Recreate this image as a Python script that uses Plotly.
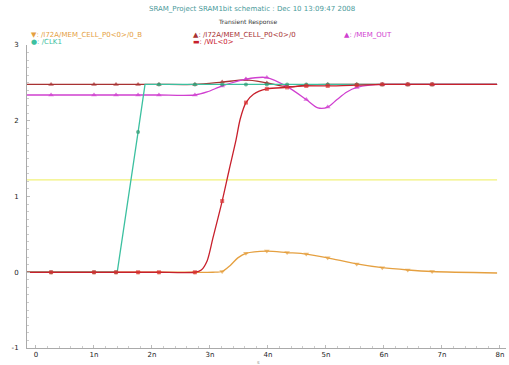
import plotly.graph_objects as go

# ---- data (time in ns, voltage in V) ----
MARK_T = [0.26, 1.0, 1.38, 1.76, 2.12, 2.74, 3.21, 3.62, 3.98, 4.33, 4.66, 5.03, 5.53, 5.97, 6.41, 6.83]

t_clk = [-0.155, 0.26, 1.0, 1.38, 1.40, 1.76, 1.88, 2.12, 2.74, 3.21, 3.62, 3.98, 4.33, 4.66, 5.03, 5.53, 5.97, 6.41, 6.83, 7.95]
v_clk = [0, 0, 0, 0, 0, 1.85, 2.48, 2.48, 2.48, 2.48, 2.48, 2.48, 2.48, 2.48, 2.48, 2.48, 2.48, 2.48, 2.48, 2.48]

t_node = [-0.155, 0.26, 1.0, 1.38, 1.76, 2.12, 2.74, 3.21, 3.62, 3.98, 4.33, 4.66, 5.03, 5.53, 5.97, 6.41, 6.83, 7.95]
v_node = [2.48, 2.48, 2.48, 2.48, 2.48, 2.48, 2.48, 2.51, 2.54, 2.50, 2.45, 2.47, 2.48, 2.48, 2.48, 2.48, 2.48, 2.48]

t_nodeb = [-0.155, 0.26, 1.0, 1.38, 1.76, 2.12, 2.74, 3.05, 3.21, 3.35, 3.48, 3.62, 3.98, 4.33, 4.66, 5.03, 5.53, 5.97, 6.41, 6.83, 7.95]
v_nodeb = [0, 0, 0, 0, 0, 0, 0, 0.0, 0.01, 0.09, 0.19, 0.25, 0.28, 0.26, 0.24, 0.19, 0.11, 0.06, 0.03, 0.01, -0.01]

t_out = [-0.155, 0.26, 1.0, 1.38, 1.76, 2.12, 2.74, 2.95, 3.21, 3.62, 3.98, 4.33, 4.66, 4.86, 5.03, 5.19, 5.36, 5.53, 5.76, 5.97, 6.41, 6.83, 7.95]
v_out = [2.34, 2.34, 2.34, 2.34, 2.34, 2.34, 2.34, 2.38, 2.46, 2.55, 2.57, 2.45, 2.28, 2.17, 2.18, 2.28, 2.38, 2.44, 2.47, 2.48, 2.48, 2.48, 2.48]

t_wl = [-0.155, 0.26, 1.0, 1.38, 1.76, 2.12, 2.74, 2.85, 2.95, 3.05, 3.21, 3.33, 3.45, 3.52, 3.62, 3.75, 3.98, 4.33, 4.66, 5.03, 5.53, 5.97, 6.41, 6.83, 7.95]
v_wl = [0, 0, 0, 0, 0, 0, 0, 0.03, 0.15, 0.45, 0.94, 1.35, 1.75, 2.02, 2.24, 2.35, 2.42, 2.44, 2.46, 2.46, 2.47, 2.48, 2.48, 2.48, 2.48]

t_mid = [-0.155, 7.95]
v_mid = [1.22, 1.22]

X_TICKS = [0, 1, 2, 3, 4, 5, 6, 7, 8]
X_LABELS = ["0", "1n", "2n", "3n", "4n", "5n", "6n", "7n", "8n"]
Y_TICKS = [-1, 0, 1, 2, 3]
Y_LABELS = ["-1", "0", "1", "2", "3"]

TITLE = "SRAM_Project SRAM1bit schematic : Dec 10 13:09:47 2008"
SUBTITLE = "Transient Response"
NAMES = ["/I72A/MEM_CELL_P0<0>/0_B", "/I72A/MEM_CELL_P0<0>/0", "/MEM_OUT", "/CLK1", "/WL<0>"]

# ---- styling ----
C_NODEB = "#e5a040"
C_NODE = "#a83232"
C_OUT = "#d040d0"
C_CLK = "#3cc0a0"
C_WL = "#c8202c"
C_MID = "#f2f27a"

W, H = 509, 365
L, R, T, B = 27, 3, 45, 17


def sizes(ts, s):
    return [s if t in MARK_T else 0 for t in ts]


fig = go.Figure()
fig.add_trace(go.Scatter(x=t_mid, y=v_mid, mode="lines", line=dict(color=C_MID, width=1.2), showlegend=False))
fig.add_trace(go.Scatter(x=t_nodeb, y=v_nodeb, mode="lines+markers", line=dict(color=C_NODEB, width=1.3, shape="spline", smoothing=0.8),
                         marker=dict(symbol="triangle-down", size=sizes(t_nodeb, 5), color=C_NODEB, line=dict(width=0)), showlegend=False))
fig.add_trace(go.Scatter(x=t_node, y=v_node, mode="lines+markers", line=dict(color=C_NODE, width=1.3, shape="spline", smoothing=0.8),
                         marker=dict(symbol="triangle-up", size=sizes(t_node, 5), color=C_NODE, line=dict(width=0)), showlegend=False))
fig.add_trace(go.Scatter(x=t_out, y=v_out, mode="lines+markers", line=dict(color=C_OUT, width=1.3, shape="spline", smoothing=0.8),
                         marker=dict(symbol="triangle-up", size=sizes(t_out, 5), color=C_OUT, line=dict(width=0)), showlegend=False))
fig.add_trace(go.Scatter(x=t_clk, y=v_clk, mode="lines+markers", line=dict(color=C_CLK, width=1.3),
                         marker=dict(symbol="circle", size=sizes(t_clk, 4), color="#2e9a70", line=dict(width=0)), showlegend=False))
fig.add_trace(go.Scatter(x=t_wl, y=v_wl, mode="lines+markers", line=dict(color=C_WL, width=1.3, shape="spline", smoothing=0.8),
                         marker=dict(symbol="square", size=sizes(t_wl, 4), color="#d83030", line=dict(width=0)), showlegend=False))

x0 = -0.155
x1 = x0 + (W - L - R) / 58.0

axis_common = dict(showgrid=False, zeroline=False, showline=True, linecolor="#aaaaaa", linewidth=1,
                   ticks="inside", ticklen=3, tickcolor="#bbbbbb",
                   tickfont=dict(family="DejaVu Sans", size=7, color="#222222"))
fig.update_xaxes(range=[x0, x1], tickvals=X_TICKS, ticktext=X_LABELS,
                 minor=dict(ticks="inside", ticklen=2, dtick=0.2, tickcolor="#cccccc"), **axis_common)
fig.update_yaxes(range=[-1, 3], tickvals=Y_TICKS, ticktext=Y_LABELS, ticklabelstandoff=6,
                 minor=dict(ticks="inside", ticklen=2, dtick=0.1, tickcolor="#cccccc"), **axis_common)


def px(x):
    return (x - L) / (W - L - R)


def py(y):
    return (H - B - y) / (H - T - B)


ann = []
ann.append(dict(x=px(252), y=py(9), text=TITLE, font=dict(size=7, color="#4a9a9a", family="DejaVu Sans")))
ann.append(dict(x=px(247), y=py(22), text=SUBTITLE, font=dict(size=6, color="#333333", family="DejaVu Sans")))
legend_items = [
    (29, 35, "\u25bc: " + NAMES[0], C_NODEB),
    (191, 35, "\u25b2: " + NAMES[1], C_NODE),
    (342, 35, "\u25b2: " + NAMES[2], C_OUT),
    (29, 42, "\u25cf: " + NAMES[3], C_CLK),
    (191, 42, "\u25ac: " + NAMES[4], C_WL),
]
for lx, ly, txt, col in legend_items:
    ann.append(dict(x=px(lx), y=py(ly), text=txt, xanchor="left", font=dict(size=7, color=col, family="DejaVu Sans")))
ann.append(dict(x=px(258), y=py(362), text="s", font=dict(size=5, color="#888888", family="DejaVu Sans")))
for a in ann:
    a.update(xref="paper", yref="paper", showarrow=False)
    a.setdefault("xanchor", "center")
    a["yanchor"] = "middle"

fig.update_layout(width=W, height=H, margin=dict(l=L, r=R, t=T, b=B), paper_bgcolor="white", plot_bgcolor="white",
                  annotations=ann, showlegend=False)

fig.write_html("out.html", config={"displayModeBar": False},
               post_script="document.body.style.margin='0';document.body.style.overflow='hidden';")
